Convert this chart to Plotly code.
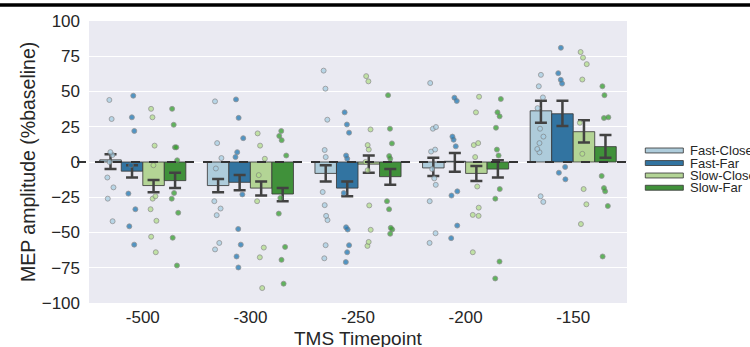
import plotly.graph_objects as go

# ---------------- data ----------------
timepoints = ["-500", "-300", "-250", "-200", "-150"]
conditions = ["Fast-Close", "Fast-Far", "Slow-Close", "Slow-Far"]

fast_close_mean = [1.5, -16.7, -8.1, -4.2, 36.3]
fast_close_hi = [5.5, -12.0, -2.3, 3.0, 43.5]
fast_close_lo = [-5.0, -21.5, -13.9, -9.9, 27.8]

fast_far_mean = [-6.5, -14.4, -18.5, 0.5, 34.2]
fast_far_hi = [-2.3, -9.3, -13.9, 6.3, 43.5]
fast_far_lo = [-11.0, -20.0, -24.3, -6.9, 25.5]

slow_close_mean = [-16.7, -18.5, -1.5, -8.1, 21.5]
slow_close_hi = [-12.7, -13.9, 4.6, -2.8, 29.6]
slow_close_lo = [-21.5, -23.8, -7.6, -13.4, 13.9]

slow_far_mean = [-13.2, -22.7, -10.4, -5.0, 10.9]
slow_far_hi = [-7.6, -18.5, -5.0, 1.2, 19.2]
slow_far_lo = [-18.5, -27.8, -16.2, -11.0, 3.0]

fast_close_pts = [
    [44, 30.5, 7, 5, 0, -11, -18, -26, -42],
    [43, 13.4, 2.8, -4.6, -27.8, -33, -37.7, -57.4, -62],
    [64.8, 52, 30, 8.5, 3.5, -21.3, -30.6, -38.2, -41.2, -59, -68.3],
    [56, 24.8, 23.6, 8.8, 7.4, -5, -11.6, -16.2, -27.8, -50.5, -57.4],
    [61.8, 53.7, 45.8, 38.2, 23.6, 18, 13.4, 9.2, 6.9, -24.3, -28.3],
]
fast_far_pts = [
    [47, 31.7, 22, -2.3, -22.4, -33.5, -45.6, -58.6],
    [44.4, 31.3, 16.9, 7, 3.5, -23, -47.5, -58.6, -67, -74.8],
    [35.2, 26.6, 20.8, 4.6, 2.3, -22, -46.3, -47.9, -59, -64, -71],
    [45.6, 43.3, 18, 15.8, 11.1, -20.8, -23.8, -45.1, -54],
    [81, 63, 58.3, 55.6, -3.5, -7.6, -12.3],
]
slow_close_pts = [
    [37.7, 31.7, 11.6, -2.3, -24.3, -26, -33.5, -41.7, -53, -64],
    [20.3, 11.6, 2.3, -9.3, -27.8, -60.7, -67.6, -89.4],
    [60.9, 57.2, 23.1, 12, 8.8, 0, -5.8, -30.8, -48.1, -56.7, -59.5],
    [46.3, 35.2, 13.4, 12, 3.5, -17.4, -32.4, -37.5, -38.2, -64],
    [78, 74, 69.4, 58.5, 27.8, 5.8, -19.2, -30, -44],
]
slow_far_pts = [
    [37.7, 26.4, 10.4, 10.4, 1.2, -22, -26, -36, -53.7, -73.4],
    [22, 18.5, 15.5, 4.6, -25.5, -36.6, -60.2, -69.4, -86.3],
    [47.4, 23.6, 13.2, 4.2, 2.3, -27.8, -33.5, -46.7, -47.9, -50.9],
    [44.7, 35.2, 32.4, 24.3, 8.8, 4.6, -19.2, -26, -70.6, -82.6],
    [53.7, 47.4, 31.7, 31.2, -9.9, -18.5, -20.8, -31.2, -67],
]

y_ticks = [-100, -75, -50, -25, 0, 25, 50, 75, 100]

# ---------------- style ----------------
bar_colors = ["#aeccdb", "#3274a1", "#b3d495", "#40913a"]
pt_colors = ["#a6cee3", "#1f78b4", "#b2df8a", "#33a02c"]
FONT = "Arial, Liberation Sans, sans-serif"
TXT = "#262626"

W, H = 750, 347
L, R, T, B = 89, 123.3, 18, 43.7
PW, PH = W - L - R, H - T - B


def px(x):
    return (x - L) / PW


def py(y):
    return (H - B - y) / PH


means = [fast_close_mean, fast_far_mean, slow_close_mean, slow_far_mean]
his = [fast_close_hi, fast_far_hi, slow_close_hi, slow_far_hi]
los = [fast_close_lo, fast_far_lo, slow_close_lo, slow_far_lo]
pts = [fast_close_pts, fast_far_pts, slow_close_pts, slow_far_pts]

fig = go.Figure()
for i, name in enumerate(conditions):
    m, hi, lo = means[i], his[i], los[i]
    fig.add_trace(go.Bar(
        x=timepoints, y=m, name=name,
        marker=dict(color=bar_colors[i], line=dict(color="rgba(60,60,60,0.85)", width=1)),
        error_y=dict(type="data", symmetric=False,
                     array=[h - v for h, v in zip(hi, m)],
                     arrayminus=[v - l for v, l in zip(m, lo)],
                     color="#424242", thickness=2.5, width=6),
        showlegend=False,
    ))

for i, name in enumerate(conditions):
    xs, ys = [], []
    for tp, vals in zip(timepoints, pts[i]):
        xs += [tp] * len(vals)
        ys += vals
    fig.add_trace(go.Box(
        x=xs, y=ys, name=name, boxpoints="all", jitter=0.4, pointpos=0,
        fillcolor="rgba(0,0,0,0)", line=dict(width=0, color="rgba(0,0,0,0)"),
        marker=dict(color=pt_colors[i], size=5, opacity=0.75,
                    line=dict(color="rgba(120,120,120,0.8)", width=1)),
        showlegend=False, hoverinfo="y",
    ))

shapes = [
    dict(type="line", xref="paper", yref="y", x0=px(77), x1=1.0, y0=0, y1=0,
         line=dict(color="#333333", width=1.8, dash="dash"), layer="above"),
    dict(type="rect", xref="paper", yref="paper", x0=px(0), x1=px(W), y0=py(3.5), y1=py(0),
         fillcolor="black", line=dict(width=0), layer="above"),
]
annotations = [
    dict(text="MEP amplitude (%baseline)", xref="paper", yref="paper", x=px(28), y=0.5,
         textangle=-90, showarrow=False, font=dict(size=19.5, color=TXT, family=FONT),
         xanchor="center", yanchor="middle"),
    dict(text="TMS Timepoint", xref="paper", yref="paper", x=0.5, y=py(339),
         showarrow=False, font=dict(size=19, color=TXT, family=FONT),
         xanchor="center", yanchor="middle"),
]
rows = [149, 161.7, 174.3, 186.7]
for i, name in enumerate(conditions):
    yc = rows[i]
    shapes.append(dict(type="rect", xref="paper", yref="paper",
                       x0=px(645), x1=px(683), y0=py(yc + 2.5), y1=py(yc - 2.5),
                       fillcolor=bar_colors[i], line=dict(color="rgba(60,60,60,0.85)", width=1)))
    annotations.append(dict(text=name, xref="paper", yref="paper", x=px(688), y=py(yc),
                            xanchor="left", yanchor="middle", showarrow=False,
                            font=dict(size=13, color=TXT, family=FONT)))

fig.update_layout(
    width=W, height=H,
    margin=dict(l=L, r=R, t=T, b=B, pad=0),
    paper_bgcolor="white", plot_bgcolor="#eaeaf2",
    barmode="group", bargap=0.2, bargroupgap=0,
    boxmode="group", boxgap=0.2, boxgroupgap=0,
    font=dict(family=FONT, color=TXT, size=17),
    shapes=shapes, annotations=annotations,
    showlegend=False,
)
fig.update_xaxes(type="category", categoryorder="array", categoryarray=timepoints,
                 range=[-0.5, 4.5], showgrid=False, zeroline=False, showline=False,
                 ticks="", tickfont=dict(size=17, color=TXT), ticklabelstandoff=2)
fig.update_yaxes(range=[-100, 100], tickvals=y_ticks, ticktext=[str(v).replace("-", "−") for v in y_ticks],
                 showgrid=True, gridcolor="white", gridwidth=1.2, zeroline=False,
                 showline=False, ticks="", tickfont=dict(size=17, color=TXT), ticklabelstandoff=8)

fig.write_html("out.html", config={"displayModeBar": False},
               post_script="document.body.style.margin='0';document.body.style.overflow='hidden';")
